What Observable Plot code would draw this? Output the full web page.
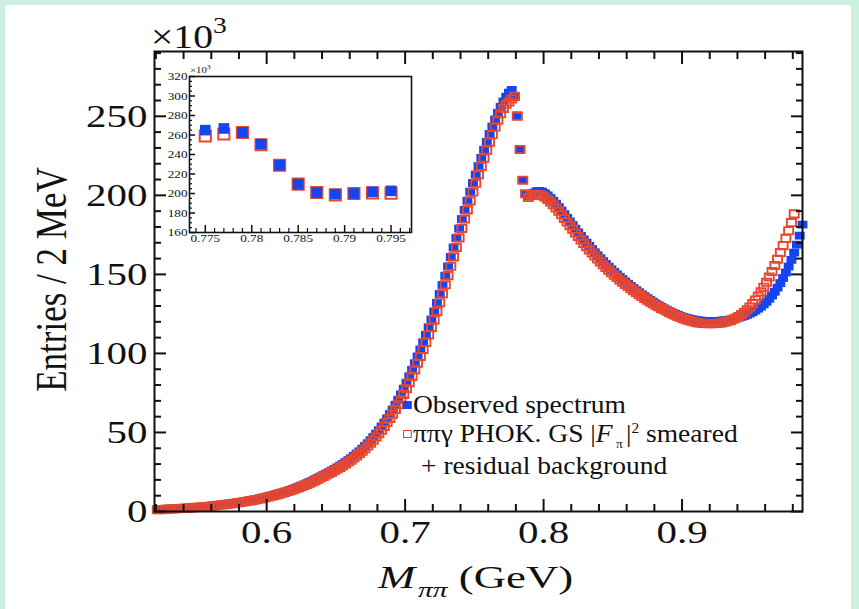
<!DOCTYPE html>
<html><head><meta charset="utf-8">
<script src="https://cdn.jsdelivr.net/npm/d3@7"></script>
<script src="https://cdn.jsdelivr.net/npm/@observablehq/plot@0.6"></script>
<style>
html,body{margin:0;padding:0;}
body{width:859px;height:609px;background:#cdefdf;position:relative;overflow:hidden;font-family:"Liberation Serif","Times New Roman",serif;color:#111;}
#page{position:absolute;left:5px;top:5px;width:846px;height:604px;background:#fff;}
#main,#inset{position:absolute;}
#main{left:0;top:0;}
#inset{left:160px;top:62px;}
.t{position:absolute;white-space:nowrap;line-height:1;transform-origin:0 50%;}
.sq{display:inline-block;vertical-align:middle;}
</style></head>
<body>
<div id="page"></div>
<div id="main"></div>
<div id="inset"></div>
<div class="t" style="left:151px;top:17px;font-size:33px;transform:scaleX(1.2);">×10<sup style="font-size:23px;position:relative;top:-3px;">3</sup></div>
<div class="t" style="left:-98px;top:262px;width:300px;text-align:center;font-size:35px;transform-origin:50% 50%;transform:rotate(-90deg) scaleY(1.25);">Entries / 2 MeV</div>
<div class="t" style="left:378px;top:561px;font-size:32px;transform:scaleX(1.4);"><i>M</i><sub style="font-size:21px;position:relative;top:2px;margin-left:2px;"><i>ππ</i></sub> (GeV)</div>
<div class="t" style="left:403px;top:392px;font-size:25px;transform:scaleX(1.1);"><span class="sq" style="width:8px;height:8px;background:#1446f0;margin-right:1px;position:relative;top:-2px;"></span>Observed spectrum</div>
<div class="t" style="left:403px;top:421px;font-size:25px;transform:scaleX(1.1);"><span class="sq" style="width:6px;height:6px;border:1.6px solid #e8472f;margin-right:1px;position:relative;top:-2px;"></span>ππγ PHOK. GS |<i>F</i><sub style="font-size:12px;line-height:0;position:relative;top:0px;margin:0 3px 0 3px;">π</sub>|<sup style="font-size:14px;">2</sup> smeared</div>
<div class="t" style="left:421px;top:453px;font-size:25px;transform:scaleX(1.1);">+ residual background</div>
<div class="t" style="left:190px;top:64px;font-size:9px;transform:scaleX(1.2);">×10<sup style="font-size:6px;">3</sup></div>
<script>
// 2 MeV bin centres (GeV)
const mass = [
0.521,0.523,0.525,0.527,0.529,0.531,0.533,0.535,0.537,0.539,
0.541,0.543,0.545,0.547,0.549,0.551,0.553,0.555,0.557,0.559,
0.561,0.563,0.565,0.567,0.569,0.571,0.573,0.575,0.577,0.579,
0.581,0.583,0.585,0.587,0.589,0.591,0.593,0.595,0.597,0.599,
0.601,0.603,0.605,0.607,0.609,0.611,0.613,0.615,0.617,0.619,
0.621,0.623,0.625,0.627,0.629,0.631,0.633,0.635,0.637,0.639,
0.641,0.643,0.645,0.647,0.649,0.651,0.653,0.655,0.657,0.659,
0.661,0.663,0.665,0.667,0.669,0.671,0.673,0.675,0.677,0.679,
0.681,0.683,0.685,0.687,0.689,0.691,0.693,0.695,0.697,0.699,
0.701,0.703,0.705,0.707,0.709,0.711,0.713,0.715,0.717,0.719,
0.721,0.723,0.725,0.727,0.729,0.731,0.733,0.735,0.737,0.739,
0.741,0.743,0.745,0.747,0.749,0.751,0.753,0.755,0.757,0.759,
0.761,0.763,0.765,0.767,0.769,0.771,0.773,0.775,0.777,0.779,
0.781,0.783,0.785,0.787,0.789,0.791,0.793,0.795,0.797,0.799,
0.801,0.803,0.805,0.807,0.809,0.811,0.813,0.815,0.817,0.819,
0.821,0.823,0.825,0.827,0.829,0.831,0.833,0.835,0.837,0.839,
0.841,0.843,0.845,0.847,0.849,0.851,0.853,0.855,0.857,0.859,
0.861,0.863,0.865,0.867,0.869,0.871,0.873,0.875,0.877,0.879,
0.881,0.883,0.885,0.887,0.889,0.891,0.893,0.895,0.897,0.899,
0.901,0.903,0.905,0.907,0.909,0.911,0.913,0.915,0.917,0.919,
0.921,0.923,0.925,0.927,0.929,0.931,0.933,0.935,0.937,0.939,
0.941,0.943,0.945,0.947,0.949,0.951,0.953,0.955,0.957,0.959,
0.961,0.963,0.965,0.967,0.969,0.971,0.973,0.975,0.977,0.979,
0.981,0.983,0.985,0.987];
// Observed spectrum (entries / 2 MeV, x10^3)
const observed = [
1.2,1.3,1.4,1.5,1.6,1.7,1.8,1.9,2.0,2.1,
2.2,2.3,2.5,2.6,2.7,2.9,3.0,3.2,3.3,3.5,
3.7,3.9,4.1,4.3,4.5,4.7,5.0,5.2,5.5,5.7,
6.0,6.3,6.6,6.9,7.2,7.6,7.9,8.3,8.7,9.1,
9.6,10.0,10.5,11.0,11.5,12.0,12.6,13.1,13.7,14.3,
15.0,15.7,16.4,17.1,17.9,18.7,19.5,20.4,21.3,22.2,
23.1,24.0,24.9,25.9,26.9,27.9,29.0,30.1,31.3,32.5,
33.8,35.2,36.6,38.1,39.7,41.4,43.2,45.1,47.1,49.2,
51.4,53.8,56.3,58.9,61.6,64.5,67.5,70.7,74.1,77.7,
81.5,85.5,89.6,93.8,98.1,102.5,107.0,111.7,116.5,121.4,
126.5,132.0,137.6,143.3,149.1,155.0,161.0,167.0,173.0,179.0,
185.0,190.8,196.6,202.3,207.8,213.2,218.5,223.7,228.8,233.8,
238.8,243.5,248.0,252.2,256.0,259.4,262.4,265.0,266.7,262.6,
250.6,229.0,209.6,201.0,199.3,200.0,201.7,202.7,202.8,202.3,
201.3,200.0,198.4,196.6,194.7,192.6,190.4,188.1,185.8,183.5,
181.2,178.9,176.6,174.4,172.2,170.1,168.0,166.0,164.0,162.1,
160.2,158.4,156.6,154.9,153.2,151.6,150.0,148.5,147.0,145.5,
144.1,142.7,141.3,140.0,138.7,137.4,136.2,135.0,133.8,132.7,
131.6,130.5,129.5,128.5,127.6,126.7,125.9,125.1,124.4,123.7,
123.1,122.6,122.1,121.7,121.3,121.0,120.8,120.6,120.5,120.4,
120.4,120.4,120.5,120.6,120.8,121.0,121.2,121.5,121.8,122.2,
122.6,123.1,123.7,124.4,125.2,126.1,127.1,128.3,129.6,131.0,
132.6,134.5,136.6,139.0,141.6,144.5,147.7,151.2,155.0,159.2,
163.8,168.8,174.5,181.5];
// pipigamma PHOKHARA GS |F_pi|^2 smeared + residual background (x10^3)
const model = [
1.1,1.2,1.3,1.4,1.5,1.6,1.7,1.8,1.9,2.0,
2.1,2.2,2.3,2.4,2.6,2.7,2.9,3.0,3.2,3.3,
3.5,3.7,3.9,4.1,4.3,4.5,4.7,5.0,5.2,5.5,
5.7,6.0,6.3,6.6,6.9,7.2,7.6,7.9,8.3,8.7,
9.2,9.6,10.0,10.5,11.0,11.5,12.0,12.6,13.1,13.7,
14.4,15.0,15.7,16.4,17.1,17.9,18.7,19.5,20.4,21.3,
22.2,23.1,24.0,24.9,25.9,26.9,27.9,29.0,30.1,31.3,
32.5,33.8,35.2,36.6,38.1,39.7,41.4,43.2,45.1,47.1,
49.2,51.4,53.8,56.3,58.9,61.6,64.5,67.5,70.7,74.1,
77.7,81.5,85.5,89.6,93.8,98.1,102.5,107.0,111.7,116.5,
121.2,126.6,132.1,137.7,143.4,149.2,155.1,161.1,167.1,173.1,
179.1,185.0,190.8,196.5,202.1,207.6,213.0,218.3,223.5,228.6,
233.6,238.5,243.2,247.6,251.6,255.0,257.6,259.0,261.0,262.6,
250.0,229.0,209.6,201.0,198.6,200.0,200.7,200.3,200.4,199.8,
198.8,197.4,195.8,194.0,192.0,189.9,187.7,185.4,183.1,180.8,
178.5,176.2,174.0,171.8,169.6,167.5,165.5,163.5,161.6,159.7,
157.9,156.1,154.4,152.7,151.1,149.5,148.0,146.5,145.1,143.7,
142.3,141.0,139.7,138.4,137.2,136.0,134.8,133.7,132.6,131.5,
130.5,129.5,128.5,127.6,126.7,125.8,125.0,124.2,123.4,122.7,
122.0,121.4,120.8,120.3,119.9,119.5,119.2,119.0,118.9,118.8,
118.8,118.9,119.0,119.1,119.4,119.8,120.3,120.9,121.6,122.4,
123.4,124.6,126.0,127.6,129.4,131.5,133.8,136.3,139.0,141.9,
145.0,148.3,151.8,155.6,159.6,163.8,168.2,172.8,177.6,182.8,
188.3];
// inset (zoom on the rho-omega interference region)
const insetMass = [0.775,0.777,0.779,0.781,0.783,0.785,0.787,0.789,0.791,0.793,0.795];
const insetObserved = [265.0,266.7,262.6,250.6,229.0,209.6,201.0,199.3,200.0,201.7,202.7];
const insetModel = [259.0,261.0,262.6,250.0,229.0,209.6,201.0,198.6,200.0,200.7,200.3];
// axis ticks
const xMajor = [0.6,0.7,0.8,0.9];
const xMinor = [0.52,0.54,0.56,0.58,0.62,0.64,0.66,0.68,0.72,0.74,0.76,0.78,0.82,0.84,0.86,0.88,0.92,0.94,0.96,0.98];
const yMajor = [0,50,100,150,200,250];
const yMinor = [10,20,30,40,60,70,80,90,110,120,130,140,160,170,180,190,210,220,230,240,260,270,280,290];
const insetXMajor = [0.775,0.78,0.785,0.79,0.795];
const insetXLabels = ["0.775","0.78","0.785","0.79","0.795"];
const insetXMinor = [0.774,0.776,0.777,0.778,0.779,0.781,0.782,0.783,0.784,0.786,0.787,0.788,0.789,0.791,0.792,0.793,0.794,0.796,0.797];
const insetYMajor = [160,180,200,220,240,260,280,300,320];
const insetYMinor = [165,170,175,185,190,195,205,210,215,225,230,235,245,250,255,265,270,275,285,290,295,305,310,315];

const BLUE = "#1446f0", RED = "#e8472f", INK = "#111";
// slightly wide rectangular marker (the original figure is stretched horizontally)
const wideSquare = {draw(ctx, size) {
  const s = Math.sqrt(size), w = s * 0.58, h = s * 0.46;
  ctx.moveTo(-w, -h); ctx.lineTo(w, -h); ctx.lineTo(w, h); ctx.lineTo(-w, h); ctx.closePath();
}};
const obsRows = observed.map((v, i) => ({m: mass[i], v}));
const modRows = model.map((v, i) => ({m: mass[i], v}));
const blank = () => "";

const main = Plot.plot({
  width: 859, height: 609,
  marginLeft: 154, marginRight: 57, marginTop: 51, marginBottom: 98,
  style: {fontFamily: "Liberation Serif, serif", background: "transparent", color: INK, overflow: "visible"},
  x: {domain: [0.519, 0.987], axis: null},
  y: {domain: [0, 291], axis: null},
  marks: [
    Plot.dot(obsRows, {x: "m", y: "v", symbol: wideSquare, r: 4.8, fill: BLUE}),
    Plot.dot(modRows, {x: "m", y: "v", symbol: wideSquare, r: 4.4, fill: "none", stroke: RED, strokeWidth: 1.9}),
    Plot.axisX(xMajor, {anchor: "bottom", tickSize: -12, tickPadding: 21, fontSize: 32, strokeWidth: 2, stroke: INK, fill: INK, tickFormat: d => d.toFixed(1), label: null}),
    Plot.axisX(xMinor, {anchor: "bottom", tickSize: -7, strokeWidth: 2, stroke: INK, tickFormat: blank, label: null}),
    Plot.axisX(xMajor, {anchor: "top", tickSize: -12, strokeWidth: 2, stroke: INK, tickFormat: blank, label: null}),
    Plot.axisX(xMinor, {anchor: "top", tickSize: -7, strokeWidth: 2, stroke: INK, tickFormat: blank, label: null}),
    Plot.axisY(yMajor, {anchor: "left", tickSize: -12, tickPadding: 19, fontSize: 32, strokeWidth: 2, stroke: INK, fill: INK, label: null}),
    Plot.axisY(yMinor, {anchor: "left", tickSize: -7, strokeWidth: 2, stroke: INK, tickFormat: blank, label: null}),
    Plot.axisY(yMajor, {anchor: "right", tickSize: -12, strokeWidth: 2, stroke: INK, tickFormat: blank, label: null}),
    Plot.axisY(yMinor, {anchor: "right", tickSize: -7, strokeWidth: 2, stroke: INK, tickFormat: blank, label: null}),
    Plot.frame({stroke: INK, strokeWidth: 2})
  ]
});
document.getElementById("main").append(main);

const insetObsRows = insetObserved.map((v, i) => ({m: insetMass[i], v}));
const insetModRows = insetModel.map((v, i) => ({m: insetMass[i], v}));
const inset = Plot.plot({
  width: 260, height: 190,
  marginLeft: 29, marginRight: 9, marginTop: 14, marginBottom: 20,
  style: {fontFamily: "Liberation Serif, serif", background: "transparent", color: INK, overflow: "visible"},
  x: {domain: [0.7733, 0.7972], axis: null},
  y: {domain: [160, 320], axis: null},
  marks: [
    Plot.dot(insetModRows, {x: "m", y: "v", symbol: "square", r: 6.3, fill: "none", stroke: RED, strokeWidth: 2}),
    Plot.dot(insetObsRows, {x: "m", y: "v", symbol: "square", r: 6.0, fill: BLUE}),
    Plot.axisX(insetXMajor, {anchor: "bottom", tickSize: -7, tickPadding: 9, fontSize: 11, strokeWidth: 1.5, stroke: INK, fill: INK, tickFormat: (d, i) => insetXLabels[i], label: null}),
    Plot.axisX(insetXMinor, {anchor: "bottom", tickSize: -4, strokeWidth: 1.2, stroke: INK, tickFormat: blank, label: null}),
    Plot.axisY(insetYMajor, {anchor: "left", tickSize: -6, tickPadding: 8, fontSize: 11, strokeWidth: 1.5, stroke: INK, fill: INK, label: null}),
    Plot.axisY(insetYMinor, {anchor: "left", tickSize: -3, strokeWidth: 1.2, stroke: INK, tickFormat: blank, label: null}),
    Plot.frame({stroke: INK, strokeWidth: 1.6})
  ]
});
document.getElementById("inset").append(inset);

// the original figure's lettering is horizontally stretched: widen the tick labels
// about their own anchor point (appended to Plot's own positioning transform)
function widen(svg, k) {
  svg.querySelectorAll('g[aria-label$="tick label"] text').forEach(t => {
    const tr = t.getAttribute("transform");
    if (tr) {
      t.setAttribute("transform", `${tr} scale(${k},1)`);
    } else {
      const x = +(t.getAttribute("x") || 0), y = +(t.getAttribute("y") || 0);
      t.removeAttribute("x"); t.removeAttribute("y");
      t.setAttribute("transform", `translate(${x},${y}) scale(${k},1)`);
    }
  });
}
widen(main, 1.28);
widen(inset, 1.2);
</script>
</body></html>
